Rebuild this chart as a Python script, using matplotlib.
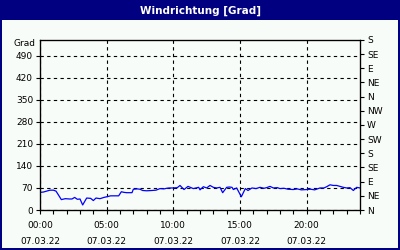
import matplotlib
matplotlib.use("Agg")
import matplotlib.pyplot as plt
from matplotlib.patches import Rectangle
from matplotlib.ticker import MultipleLocator

TITLE = "Windrichtung [Grad]"
DATE = "07.03.22"

# time in hours, wind direction in degrees
HOURS = [0.0, 0.25, 0.5, 0.75, 1.0, 1.2, 1.35, 1.6, 1.9, 2.2, 2.4, 2.6, 2.8, 3.0,
         3.2, 3.5, 3.8, 4.0, 4.2, 4.5, 4.8, 5.0, 5.3, 5.6, 5.9, 6.1, 6.3, 6.5,
         6.9, 7.0, 7.3, 7.5, 7.7, 8.0, 8.4, 8.7, 9.0, 9.3, 9.5, 9.7, 10.0, 10.3,
         10.5, 10.8, 11.1, 11.5, 11.9, 12.0, 12.25, 12.5, 12.75, 13.0, 13.25,
         13.5, 13.7, 14.0, 14.2, 14.4, 14.5, 14.75, 15.1, 15.4, 15.6, 15.9,
         16.2, 16.5, 16.8, 17.0, 17.25, 17.5, 17.8, 18.0, 18.3, 18.6, 19.0,
         19.3, 19.6, 20.0, 20.3, 20.6, 21.0, 21.3, 21.5, 21.75, 22.0, 22.25,
         22.5, 22.75, 23.0, 23.25, 23.5, 23.75, 24.0]
DIRECTION = [56, 57, 60, 63, 63, 60, 50, 33, 36, 35, 35, 40, 34, 35,
             16, 38, 37, 30, 38, 36, 40, 42, 45, 45, 45, 58, 56, 55,
             55, 66, 67, 66, 62, 61, 62, 63, 68, 67, 69, 70, 70, 71,
             78, 65, 75, 68, 72, 64, 74, 70, 78, 72, 70,
             72, 55, 72, 73, 72, 65, 70, 42, 68, 62, 70,
             68, 72, 69, 71, 75, 70, 71, 68, 69, 66, 65,
             67, 64, 65, 66, 64, 70, 70, 74, 80, 78, 78,
             75, 72, 70, 71, 62, 72, 70]

LEFT_TICKS = [0, 70, 140, 210, 280, 350, 420, 490]
RIGHT_TICKS = list(range(0, 541, 45))
RIGHT_LABELS = ["N", "NE", "E", "SE", "S", "SW", "W", "NW",
                "N", "NE", "E", "SE", "S"]
X_TICKS = [0, 5, 10, 15, 20]

NAVY = "#000080"
PANEL = "#f8fcf8"

plt.rcParams['font.family'] = ['DejaVu Sans']

fig = plt.figure(figsize=(4, 2.5), dpi=100, facecolor=NAVY)
fig.patches.append(Rectangle((2 / 400, 2 / 250), 396 / 400, 228 / 250,
                             transform=fig.transFigure, facecolor=PANEL,
                             edgecolor="none", zorder=-10))
fig.text(0.5, 0.958, TITLE, color="white", fontsize=7.5, fontweight="bold",
         ha="center", va="center")

ax = fig.add_axes([0.1, 0.16, 0.8, 0.68])
ax.set_facecolor(PANEL)
ax.plot(HOURS, DIRECTION, color="#0000ff", lw=0.9)

ax.set_xlim(0, 24)
ax.set_ylim(0, 540)
ax.set_xticks(X_TICKS)
ax.set_xticklabels(["%02d:00\n%s" % (h, DATE) for h in X_TICKS],
                   linespacing=2.0)
ax.xaxis.set_minor_locator(MultipleLocator(1))
ax.set_yticks(LEFT_TICKS)
ax.tick_params(axis="both", which="both", labelsize=6.5, direction="out",
               length=3, width=0.8, pad=2, colors="black")
ax.tick_params(axis="x", which="major", pad=5)
ax.grid(True, which="major", color="black", linestyle=(0, (3, 3)), lw=0.8)
for s in ax.spines.values():
    s.set_linewidth(0.9)
ax.annotate("Grad", xy=(-0.015, 530), xycoords=("axes fraction", "data"),
            ha="right", va="center", fontsize=6.5)

ax2 = ax.twinx()
ax2.set_ylim(0, 540)
ax2.set_yticks(RIGHT_TICKS)
ax2.set_yticklabels(RIGHT_LABELS)
ax2.tick_params(axis="y", labelsize=6.5, direction="out", length=3,
                width=0.8, pad=2)

fig.savefig("out.png", dpi=100, facecolor=NAVY)
